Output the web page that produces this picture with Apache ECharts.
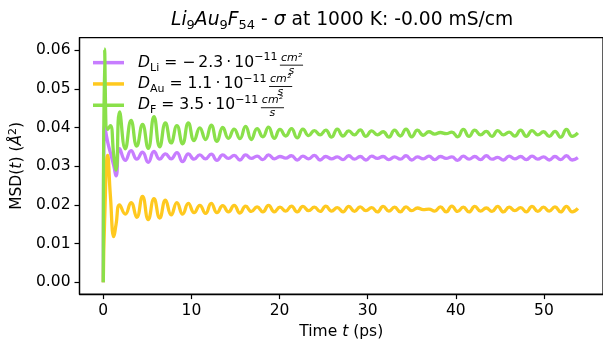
<!DOCTYPE html>
<html><head><meta charset="utf-8">
<script src="https://cdn.jsdelivr.net/npm/echarts@6/dist/echarts.min.js"></script>
<style>html,body{margin:0;padding:0;background:#fff}#c{width:603px;height:345px}</style>
</head><body><div id="c"></div>
<script>
const times = [0, 0.15, 0.5, 0.8, 1.2, 1.45, 1.85,
  2.5, 3.15, 3.8, 4.45, 5.1, 5.75, 6.4, 7.05, 7.7, 8.35,
  9.0, 9.65, 10.3, 10.95, 11.6, 12.25, 12.9, 13.55, 14.2, 14.85,
  15.5, 16.15, 16.8, 17.45, 18.1, 18.75, 19.4, 20.05, 20.7, 21.35,
  22.0, 22.65, 23.3, 23.95, 24.6, 25.25, 25.9, 26.55, 27.2, 27.85,
  28.5, 29.15, 29.8, 30.45, 31.1, 31.75, 32.4, 33.05, 33.7, 34.35,
  35.0, 35.65, 36.3, 36.95, 37.6, 38.25, 38.9, 39.55, 40.2, 40.85,
  41.5, 42.15, 42.8, 43.45, 44.1, 44.75, 45.4, 46.05, 46.7, 47.35,
  48.0, 48.65, 49.3, 49.95, 50.6, 51.25, 51.9, 52.55, 53.2, 53.85];

const msdLi = [0, 0.0405, 0.0362, 0.0335, 0.0300, 0.0275, 0.0345,
  0.0315, 0.0340, 0.0318, 0.0336, 0.0310, 0.0338, 0.0318, 0.0332, 0.0319, 0.0335,
  0.0312, 0.0332, 0.0318, 0.0329, 0.0319, 0.0331, 0.0315, 0.0329, 0.0320, 0.0328,
  0.0316, 0.0329, 0.0320, 0.0326, 0.0317, 0.0329, 0.0319, 0.0325, 0.0321, 0.0327,
  0.0316, 0.0326, 0.0319, 0.0328, 0.0316, 0.0325, 0.0319, 0.0324, 0.0317, 0.0327,
  0.0318, 0.0325, 0.0316, 0.0326, 0.0320, 0.0325, 0.0317, 0.0324, 0.0318, 0.0327,
  0.0316, 0.0324, 0.0319, 0.0326, 0.0317, 0.0325, 0.0320, 0.0324, 0.0315, 0.0326,
  0.0318, 0.0325, 0.0317, 0.0327, 0.0318, 0.0323, 0.0316, 0.0326, 0.0319, 0.0325,
  0.0317, 0.0326, 0.0318, 0.0324, 0.0316, 0.0325, 0.0317, 0.0327, 0.0316, 0.0322];

const msdAu = [0, 0.0160, 0.0328, 0.0225, 0.0118, 0.0150, 0.0200,
  0.0176, 0.0206, 0.0168, 0.0222, 0.0162, 0.0216, 0.0166, 0.0212, 0.0174, 0.0206,
  0.0176, 0.0204, 0.0180, 0.0199, 0.0178, 0.0204, 0.0180, 0.0198, 0.0182, 0.0199,
  0.0179, 0.0197, 0.0183, 0.0195, 0.0182, 0.0199, 0.0182, 0.0194, 0.0184, 0.0197,
  0.0182, 0.0196, 0.0185, 0.0194, 0.0183, 0.0197, 0.0184, 0.0193, 0.0182, 0.0196,
  0.0183, 0.0195, 0.0185, 0.0193, 0.0182, 0.0196, 0.0184, 0.0194, 0.0182, 0.0195,
  0.0185, 0.0192, 0.0188, 0.0189, 0.0184, 0.0195, 0.0182, 0.0197, 0.0183, 0.0194,
  0.0182, 0.0196, 0.0184, 0.0192, 0.0183, 0.0196, 0.0182, 0.0194, 0.0185, 0.0193,
  0.0182, 0.0196, 0.0183, 0.0194, 0.0184, 0.0195, 0.0182, 0.0196, 0.0182, 0.0191];

const msdF = [0, 0.0603, 0.0395, 0.0405, 0.0325, 0.0290, 0.0440,
  0.0345, 0.0418, 0.0352, 0.0408, 0.0346, 0.0428, 0.0350, 0.0412, 0.0360, 0.0405,
  0.0358, 0.0412, 0.0366, 0.0399, 0.0369, 0.0406, 0.0364, 0.0400, 0.0372, 0.0396,
  0.0371, 0.0403, 0.0369, 0.0397, 0.0376, 0.0401, 0.0372, 0.0395, 0.0378, 0.0397,
  0.0373, 0.0396, 0.0379, 0.0392, 0.0381, 0.0393, 0.0375, 0.0396, 0.0378, 0.0391,
  0.0381, 0.0394, 0.0377, 0.0391, 0.0381, 0.0389, 0.0375, 0.0393, 0.0378, 0.0396,
  0.0376, 0.0393, 0.0380, 0.0389, 0.0383, 0.0387, 0.0384, 0.0388, 0.0376, 0.0395,
  0.0377, 0.0393, 0.0381, 0.0390, 0.0377, 0.0392, 0.0381, 0.0388, 0.0378, 0.0393,
  0.0377, 0.0392, 0.0381, 0.0389, 0.0377, 0.0390, 0.0375, 0.0395, 0.0377, 0.0386];

const seriesNames = ['Li', 'Au', 'F'];
const seriesColors = ['#c77dff', '#ffc91f', '#8ae04a'];
const legendParts = {
  Li: ['D', 'Li', ' = −\u20092.3\u2009·\u200910', '−11'],
  Au: ['D', 'Au', ' = 1.1\u2009·\u200910', '−11'],
  F:  ['D', 'F',  ' = 3.5\u2009·\u200910', '−11']
};
const xTicks = [0, 10, 20, 30, 40, 50];
const yTicks = [0, 0.01, 0.02, 0.03, 0.04, 0.05, 0.06];

const FF = 'DejaVu Sans';
const BIG = 15.6, SMALL = 11;
const chart = echarts.init(document.getElementById('c'), null, {renderer: 'canvas'});
const seriesData = [msdLi, msdAu, msdF];

// measure legend text widths so the fractions follow the text
const ctx = document.createElement('canvas').getContext('2d');
function tw(t, size, italic) { ctx.font = (italic ? 'italic ' : '') + size + 'px "' + FF + '"'; return ctx.measureText(t).width; }

const legendLeft = 93, iconW = 31, textPad = 9;
const rowCenters = [62.7, 84.0, 105.3];
const graphics = [];
seriesNames.forEach((nm, i) => {
  const p = legendParts[nm];
  const w = tw(p[0], BIG, true) + tw(p[1], SMALL) + tw(p[2], BIG) + tw(p[3], SMALL);
  const x0 = legendLeft + iconW + 5 + textPad + w + 2.5;
  const cy = rowCenters[i];
  const nw = tw('cm²', SMALL, true);
  const bw = nw + 2;
  graphics.push({type: 'text', x: x0 + 1, y: cy - 10.5, style: {text: 'cm²', font: 'italic ' + SMALL + 'px "DejaVu Sans"', fill: '#000'}});
  graphics.push({type: 'rect', shape: {x: x0, y: cy + 2, width: bw, height: 0.9}, style: {fill: '#000'}});
  graphics.push({type: 'text', x: x0 + bw / 2 - 3, y: cy + 2.6, style: {text: 's', font: 'italic ' + SMALL + 'px "DejaVu Sans"', fill: '#000'}});
});

const option = {
  animation: false,
  backgroundColor: '#fff',
  title: {
    text: '{i|Li}{b|9}{i|Au}{b|9}{i|F}{b|54}{n| - }{i|σ}{n| at 1000 K: -0.00 mS/cm}',
    left: 171, top: 8, padding: 0,
    textStyle: {
      fontFamily: FF, fontWeight: 'normal', color: '#000', fontSize: 18.7,
      rich: {
        i: {fontFamily: FF, fontStyle: 'italic', fontSize: 18.7, color: '#000', lineHeight: 24},
        n: {fontFamily: FF, fontSize: 18.7, color: '#000', lineHeight: 24},
        b: {fontFamily: FF, fontSize: 13, color: '#000', verticalAlign: 'bottom', lineHeight: 13}
      }
    }
  },
  grid: {left: 79.5, top: 37.7, width: 526.5, height: 260.3, show: true, borderColor: '#000', borderWidth: 1.25, backgroundColor: 'transparent'},
  legend: {
    orient: 'vertical', left: legendLeft, top: 52, padding: 0, itemGap: 0,
    itemWidth: iconW, itemHeight: 3.5, icon: 'rect',
    data: seriesNames,
    formatter: n => { const p = legendParts[n]; return '{d|' + p[0] + '}{s|' + p[1] + '}{n|' + p[2] + '}{p|' + p[3] + '}'; },
    textStyle: {
      fontFamily: FF, color: '#000', fontSize: BIG,
      rich: {
        d: {fontFamily: FF, fontStyle: 'italic', fontSize: BIG, color: '#000', padding: [0, 0, 0, textPad], lineHeight: 21.3},
        n: {fontFamily: FF, fontSize: BIG, color: '#000', lineHeight: 21.3},
        s: {fontFamily: FF, fontSize: SMALL, color: '#000', verticalAlign: 'bottom', lineHeight: 11},
        p: {fontFamily: FF, fontSize: SMALL, color: '#000', verticalAlign: 'top', lineHeight: 11}
      }
    }
  },
  xAxis: {
    type: 'value', min: -2.7, max: 56.7,
    axisLine: {show: true, onZero: false, lineStyle: {color: '#000', width: 1.25}},
    axisTick: {show: true, inside: false, length: 5, lineStyle: {color: '#000', width: 1.2}, customValues: xTicks},
    axisLabel: {customValues: xTicks, fontFamily: FF, fontSize: 15.5, color: '#000', margin: 9},
    splitLine: {show: false},
    name: '{n|Time }{i|t}{n| (ps)}', nameLocation: 'middle', nameGap: 25,
    nameTextStyle: {rich: {
      n: {fontFamily: FF, fontSize: 15.5, color: '#000'},
      i: {fontFamily: FF, fontStyle: 'italic', fontSize: 15.5, color: '#000'}
    }}
  },
  yAxis: {
    type: 'value', min: -0.00305, max: 0.0632,
    axisLine: {show: true, onZero: false, lineStyle: {color: '#000', width: 1.25}},
    axisTick: {show: true, inside: false, length: 5, lineStyle: {color: '#000', width: 1.2}, customValues: yTicks},
    axisLabel: {customValues: yTicks, formatter: v => v.toFixed(2), fontFamily: FF, fontSize: 15.5, color: '#000', margin: 9},
    splitLine: {show: false},
    name: '{n|MSD(}{i|t}{n|) (}{i|Å}{p|2}{n|)}', nameLocation: 'middle', nameGap: 45, nameRotate: 90,
    nameTextStyle: {rich: {
      n: {fontFamily: FF, fontSize: 15.5, color: '#000', lineHeight: 18},
      i: {fontFamily: FF, fontStyle: 'italic', fontSize: 15.5, color: '#000', lineHeight: 18},
      p: {fontFamily: FF, fontSize: 11, color: '#000', verticalAlign: 'top', lineHeight: 11}
    }}
  },
  series: seriesNames.map((name, k) => ({
    name: name, type: 'line', showSymbol: false, smooth: 0.5,
    data: times.map((t, i) => [t, seriesData[k][i]]),
    lineStyle: {color: seriesColors[k], width: 3.3},
    itemStyle: {color: seriesColors[k]},
    z: 2 + k
  })),
  graphic: graphics
};
chart.setOption(option);
</script></body></html>
